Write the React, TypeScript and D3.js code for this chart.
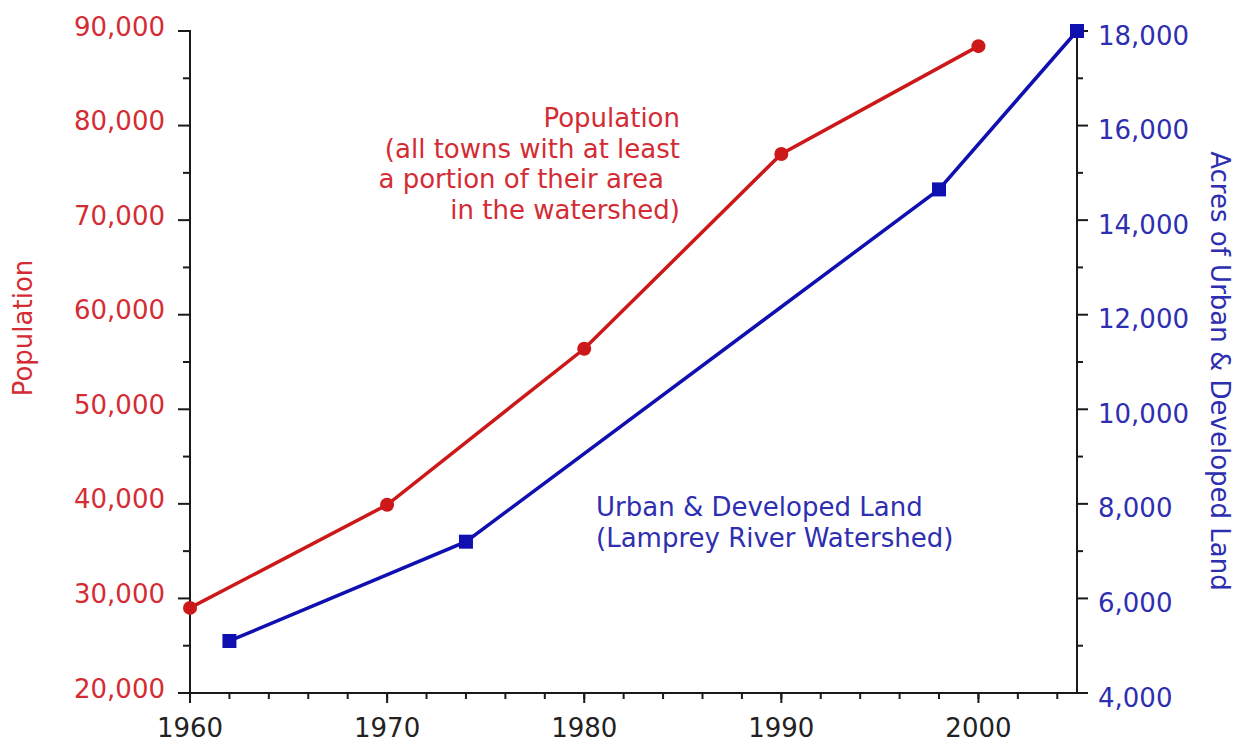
import { useEffect, useRef } from 'react';
import * as d3 from 'd3';

// Population of watershed towns (left axis)
const popYears = [1960, 1970, 1980, 1990, 2000];
const population = [29000, 39900, 56400, 77000, 88400];

// Urban & developed land, acres (right axis)
const landYears = [1962, 1974, 1998, 2005];
const landAcres = [5100, 7200, 14650, 18000];

const xTicks = [1960, 1970, 1980, 1990, 2000];
const popTicks = [20000, 30000, 40000, 50000, 60000, 70000, 80000, 90000];
const landTicks = [4000, 6000, 8000, 10000, 12000, 14000, 16000, 18000];

const popNote = ['Population', '(all towns with at least', 'a portion of their area', 'in the watershed)'];
const landNote = ['Urban & Developed Land', '(Lamprey River Watershed)'];

const RED = '#cc1818';
const RED_TEXT = '#d42c34';
const BLUE = '#1010b0';
const BLUE_TEXT = '#2e2eb0';
const FONT = '"DejaVu Sans", Arial, sans-serif';

const App = () => {
  const svgRef = useRef<SVGSVGElement>(null);

  useEffect(() => {
    document.body.style.margin = '0';
    const width = 1243;
    const height = 746;
    const margin = { top: 31, right: 166, bottom: 53, left: 190 };

    const x = d3.scaleLinear().domain([1960, 2005]).range([margin.left, width - margin.right]);
    const yPop = d3.scaleLinear().domain([20000, 90000]).range([height - margin.bottom, margin.top]);
    const yLand = d3.scaleLinear().domain([4000, 18000]).range([height - margin.bottom, margin.top]);
    const fmt = d3.format(',');

    const svg = d3.select(svgRef.current).attr('width', width).attr('height', height);
    svg.selectAll('*').remove();

    const x0 = x(1960);
    const x1 = x(2005);
    const yb = yPop(20000);
    const yt = yPop(90000);

    const axes = svg.append('g').attr('stroke', '#1a1a1a').attr('stroke-width', 2);
    // axis lines
    axes.append('line').attr('x1', x0).attr('x2', x0).attr('y1', yt - 1).attr('y2', yb);
    axes.append('line').attr('x1', x1).attr('x2', x1).attr('y1', yt - 1).attr('y2', yb);
    axes.append('line').attr('x1', x0).attr('x2', x1).attr('y1', yb).attr('y2', yb);

    // x ticks (minor every 2 years)
    d3.range(1960, 2005, 2).forEach(yr => {
      axes.append('line').attr('x1', x(yr)).attr('x2', x(yr)).attr('y1', yb).attr('y2', yb + 6);
    });
    xTicks.forEach(yr => {
      axes.append('line').attr('x1', x(yr)).attr('x2', x(yr)).attr('y1', yb).attr('y2', yb + 10);
    });

    // left ticks
    d3.range(25000, 90000, 10000).forEach(v => {
      axes.append('line').attr('x1', x0 - 7).attr('x2', x0).attr('y1', yPop(v)).attr('y2', yPop(v));
    });
    popTicks.forEach(v => {
      axes.append('line').attr('x1', x0 - 12).attr('x2', x0).attr('y1', yPop(v)).attr('y2', yPop(v));
    });

    // right ticks
    d3.range(5000, 18000, 2000).forEach(v => {
      axes.append('line').attr('x1', x1).attr('x2', x1 + 6).attr('y1', yLand(v)).attr('y2', yLand(v));
    });
    landTicks.forEach(v => {
      axes.append('line').attr('x1', x1).attr('x2', x1 + 11).attr('y1', yLand(v)).attr('y2', yLand(v));
    });

    const txt = svg.append('g').attr('font-family', FONT).attr('font-size', 26);

    // tick labels
    txt.selectAll('.xl').data(xTicks).join('text')
      .attr('x', d => x(d)).attr('y', yb + 44)
      .attr('text-anchor', 'middle').attr('fill', '#222')
      .text(d => d);

    txt.selectAll('.pl').data(popTicks).join('text')
      .attr('x', x0 - 25).attr('y', d => yPop(d) + 4.5)
      .attr('text-anchor', 'end').attr('fill', RED_TEXT)
      .text(d => fmt(d));

    txt.selectAll('.ll').data(landTicks).join('text')
      .attr('x', x1 + 21).attr('y', d => yLand(d) + 13.5)
      .attr('text-anchor', 'start').attr('fill', BLUE_TEXT)
      .text(d => fmt(d));

    // axis titles
    txt.append('text')
      .attr('transform', `translate(32, 328) rotate(-90)`)
      .attr('text-anchor', 'middle').attr('fill', RED_TEXT)
      .text('Population');

    txt.append('text')
      .attr('transform', `translate(1211, 371) rotate(90)`)
      .attr('text-anchor', 'middle').attr('fill', BLUE_TEXT)
      .text('Acres of Urban & Developed Land');

    // lines
    const popData = popYears.map((yr, i) => ({ yr, v: population[i] }));
    const landData = landYears.map((yr, i) => ({ yr, v: landAcres[i] }));

    svg.append('path')
      .datum(landData)
      .attr('fill', 'none').attr('stroke', BLUE).attr('stroke-width', 3.5)
      .attr('d', d3.line<{ yr: number; v: number }>().x(d => x(d.yr)).y(d => yLand(d.v)));

    svg.append('path')
      .datum(popData)
      .attr('fill', 'none').attr('stroke', RED).attr('stroke-width', 3.5)
      .attr('d', d3.line<{ yr: number; v: number }>().x(d => x(d.yr)).y(d => yPop(d.v)));

    svg.append('g').selectAll('rect').data(landData).join('rect')
      .attr('x', d => x(d.yr) - 7).attr('y', d => yLand(d.v) - 7)
      .attr('width', 14).attr('height', 14).attr('fill', BLUE);

    svg.append('g').selectAll('circle').data(popData).join('circle')
      .attr('cx', d => x(d.yr)).attr('cy', d => yPop(d.v))
      .attr('r', 7).attr('fill', RED);

    // annotations
    const pn = txt.append('text').attr('text-anchor', 'end').attr('fill', RED_TEXT);
    popNote.forEach((line, i) => {
      pn.append('tspan')
        .attr('x', i === 2 ? 664 : 680)
        .attr('y', 127 + i * 30.7)
        .text(line);
    });

    const ln = txt.append('text').attr('text-anchor', 'start').attr('fill', BLUE_TEXT);
    landNote.forEach((line, i) => {
      ln.append('tspan')
        .attr('x', 596)
        .attr('y', 516 + i * 31)
        .text(line);
    });
  }, []);

  return <svg ref={svgRef} style={{ display: 'block' }}></svg>;
};

export default App;
